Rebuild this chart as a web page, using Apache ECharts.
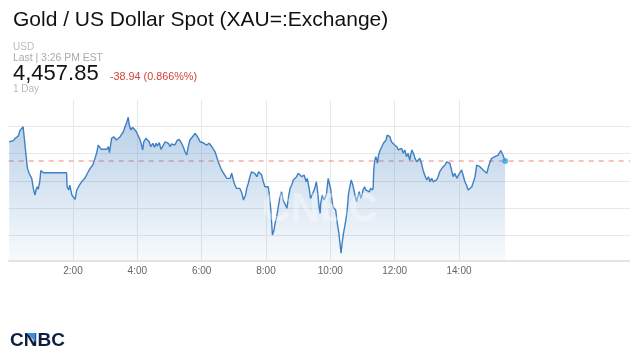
<!DOCTYPE html>
<html><head><meta charset="utf-8">
<script src="https://cdn.jsdelivr.net/npm/echarts@6/dist/echarts.min.js"></script>
<style>html,body{margin:0;padding:0;background:#fff}#c{width:630px;height:354px}</style>
</head><body><div id="c"></div>
<script>
// minutes since midnight (EST)
const minutes = [1,9,12,18,21,24,27,29,32,35,38,43,46,49,51,53,55,58,60,63,65,108,109,112,114,118,121,124,127,132,136,142,147,152,157,161,164,167,170,173,
176,183,186,188,192,196,201,204,208,211,214,217,220,223,225,228,231,234,237,240,244,247,250,252,256,259,262,265,269,272,275,277,281,284,287,292,295,298,301,304,307,310,314,318,321,325,327,329,332,335,338,343,348,351,354,357,360,
363,369,374,379,382,385,388,391,394,397,400,403,407,410,413,416,419,422,425,428,431,435,438,439,442,444,447,450,453,456,459,463,466,469,472,475,478,481,484,486,489,491,492,495,497,500,503,506,509,512,515,519,522,525,528,531,534,537,540,543,
547,551,555,557,561,563,566,568,571,574,576,579,581,582,585,588,591,593,596,598,601,603,605,608,610,613,616,618,620,622,624,627,629,632,634,637,639,642,644,646,649,651,654,657,659,661,664,666,669,673,675,679,680,681,683,685,688,690,693,696,699,702,704,706,709,711,714,717,720,724,727,730,
733,736,739,742,745,748,752,755,758,761,764,767,770,773,776,780,783,786,789,792,795,798,801,804,808,811,814,817,820,823,826,829,832,836,839,842,845,848,851,854,857,860,864,867,870,873,876,879,882,885,888,892,895,898,901,904,907,910,913,916,918,920,922,926];
const prices = [4471.9,4472.7,4474.4,4476.1,4480.0,4481.0,4482.9,4481.7,4463.5,4452.5,4448.9,4445.2,4437.9,4433.0,4436.7,4439.1,4437.2,4442.7,4450.8,4450.0,4449.3,4449.3,4439.1,4436.7,4440.3,4433.0,4431.4,4429.9,4436.7,4440.3,4442.7,4445.2,4448.9,4452.5,4454.9,4459.8,4463.5,4469.5,4468.3,4466.4,
4466.4,4466.4,4468.3,4463.9,4474.4,4475.6,4473.2,4471.9,4475.6,4477.6,4479.2,4482.9,4485.8,4489.8,4484.1,4480.5,4482.5,4481.7,4480.0,4477.6,4474.4,4470.8,4465.9,4471.9,4474.4,4474.4,4471.9,4468.3,4470.8,4467.9,4470.8,4468.8,4471.2,4466.4,4468.3,4471.9,4473.2,4470.8,4468.3,4470.3,4471.2,4469.5,4472.7,4473.7,4471.9,4468.8,4468.3,4464.6,4462.2,4468.3,4473.2,4475.6,4478.1,4476.8,4474.4,4471.9,4470.8,
4471.2,4469.5,4470.8,4468.3,4469.5,4464.6,4461.0,4457.3,4456.2,4451.3,4450.0,4447.6,4445.2,4446.4,4445.2,4448.9,4444.0,4440.3,4437.9,4436.7,4437.9,4434.3,4429.4,4428.1,4433.0,4437.9,4441.6,4446.4,4450.0,4451.3,4448.9,4446.4,4450.0,4450.8,4447.6,4442.7,4439.1,4437.9,4439.1,4434.3,4422.1,4409.9,4403.8,4407.5,4412.4,4417.2,4424.5,4431.8,4435.4,4429.4,4430.6,4423.3,4431.8,4437.9,4440.3,4444.0,4442.7,4446.4,4448.9,4450.0,
4446.4,4447.6,4442.7,4445.2,4436.7,4430.6,4433.0,4431.8,4437.9,4442.7,4436.7,4424.5,4419.7,4427.0,4433.0,4429.4,4431.8,4434.3,4445.2,4444.0,4436.7,4429.4,4424.5,4425.7,4422.1,4412.4,4405.1,4397.8,4390.5,4397.8,4403.8,4405.1,4414.8,4424.5,4434.3,4440.3,4444.0,4440.3,4436.7,4433.0,4428.1,4431.8,4435.4,4430.6,4433.0,4436.7,4439.1,4436.7,4437.9,4435.4,4437.9,4436.7,4439.1,4451.3,4458.6,4461.0,4456.2,4462.2,4465.9,4468.3,4470.8,4469.5,4473.2,4476.8,4478.1,4475.6,4471.9,4470.8,4469.5,4468.3,4465.9,4464.6,
4467.1,4463.5,4465.9,4461.0,4463.5,4458.6,4465.9,4463.5,4459.8,4457.3,4458.6,4459.8,4456.2,4451.3,4447.6,4444.0,4446.4,4442.7,4445.2,4442.7,4441.6,4444.0,4446.4,4450.0,4452.5,4453.7,4454.9,4457.3,4458.6,4456.2,4451.3,4446.4,4448.9,4445.2,4447.6,4446.4,4451.3,4452.5,4442.7,4440.3,4436.7,4437.9,4439.1,4437.9,4446.4,4454.9,4456.2,4453.7,4452.5,4451.3,4450.0,4448.9,4453.7,4457.3,4459.8,4458.6,4461.0,4459.8,4462.2,4461.0,4465.4,4463.9,4462.2,4457.85];
const lastPrice = 4457.85;
const change = '-38.94 (0.866%%)';
const gridLevels = [4403.4, 4423.4, 4443.4, 4463.4, 4483.4];
const timeTicks = [120, 240, 360, 480, 600, 720, 840];
const tickLabels = ['2:00', '4:00', '6:00', '8:00', '10:00', '12:00', '14:00'];
const axisMaxMinute = 1159;

const chart = echarts.init(document.getElementById('c'), null, {renderer: 'canvas'});
const F = '"Liberation Sans", Arial, sans-serif';
const gridMarks = []
  .concat(gridLevels.map(v => ({yAxis: v})))
  .concat(timeTicks.map(v => ({xAxis: v})));

chart.setOption({
  animation: false,
  backgroundColor: '#fff',
  grid: {left: 8.67, right: 0, top: 100, bottom: 93, containLabel: false},
  xAxis: {
    type: 'value', min: 0, max: axisMaxMinute, interval: 120,
    axisLine: {show: true, lineStyle: {color: '#dcdcdc', width: 1.5}},
    axisTick: {show: false},
    splitLine: {show: false},
    axisLabel: {
      show: true, color: '#666', fontSize: 10, fontFamily: F, margin: 5,
      showMinLabel: false, showMaxLabel: false,
      formatter: v => { const i = timeTicks.indexOf(v); return i >= 0 ? tickLabels[i] : ''; }
    }
  },
  yAxis: {
    type: 'value', min: 4384.85, max: 4502.4, show: false,
    splitLine: {show: false}
  },
  series: [{
    // grid lines
    type: 'line', data: [], z: 0, silent: true,
    markLine: {
      silent: true, z: 0, symbol: ['none', 'none'], label: {show: false}, animation: false,
      lineStyle: {color: '#e8e8e8', width: 1, type: 'solid'},
      data: gridMarks
    }
  }, {
    // last price dashed line
    type: 'line', z: 1, silent: true, showSymbol: false, symbol: 'none',
    data: [[0, lastPrice], [axisMaxMinute, lastPrice]],
    lineStyle: {color: '#e8857a', width: 1, type: [5, 5]},
    itemStyle: {color: '#e8857a'}
  }, {
    type: 'line',
    data: minutes.map((m, i) => [m, prices[i]]),
    showSymbol: false,
    symbol: 'none',
    z: 2,
    lineStyle: {color: '#3f80c2', width: 1.4},
    areaStyle: {
      color: new echarts.graphic.LinearGradient(0, 0, 0, 1, [
        {offset: 0, color: 'rgba(62,126,192,0.52)'},
        {offset: 1, color: 'rgba(62,126,192,0.05)'}
      ])
    }
  }, {
    type: 'scatter',
    data: [[minutes[minutes.length - 1], lastPrice]],
    symbolSize: 6,
    itemStyle: {color: '#2aa6e2'},
    z: 4
  }],
  graphic: [
    {type: 'text', left: 13, top: 10, z: 10, style: {text: 'Gold / US Dollar Spot (XAU=:Exchange)', fontSize: 21, fontFamily: F, fill: '#111'}},
    {type: 'text', left: 13, top: 42, z: 10, style: {text: 'USD', fontSize: 10, fontFamily: F, fill: '#bbb'}},
    {type: 'text', left: 13, top: 53, z: 10, style: {text: 'Last | 3:26 PM EST', fontSize: 10.4, fontFamily: F, fill: '#aaa'}},
    {type: 'text', left: 13, top: 63, z: 10, style: {text: '4,457.85', fontSize: 22, fontFamily: F, fill: '#111'}},
    {type: 'text', left: 110, top: 72, z: 10, style: {text: change, fontSize: 10.8, fontFamily: F, fill: '#d2433b'}},
    {type: 'text', left: 13, top: 84, z: 10, style: {text: '1 Day', fontSize: 10, fontFamily: F, fill: '#bbb'}},
    {type: 'text', left: 262, top: 190, z: 10, style: {text: 'CNBC', fontSize: 40, fontWeight: 'bold', fontFamily: F, fill: 'rgba(255,255,255,0.35)'}},
    {type: 'text', left: 10, top: 331, z: 10, style: {text: 'CNBC', fontSize: 19, fontWeight: 'bold', fontFamily: F, fill: '#0f1d3f'}},
    {type: 'polygon', z: 11, shape: {points: [[26.5, 333], [35.5, 333], [35.5, 342]]}, style: {fill: '#3d8fe0'}}
  ]
});
</script></body></html>
